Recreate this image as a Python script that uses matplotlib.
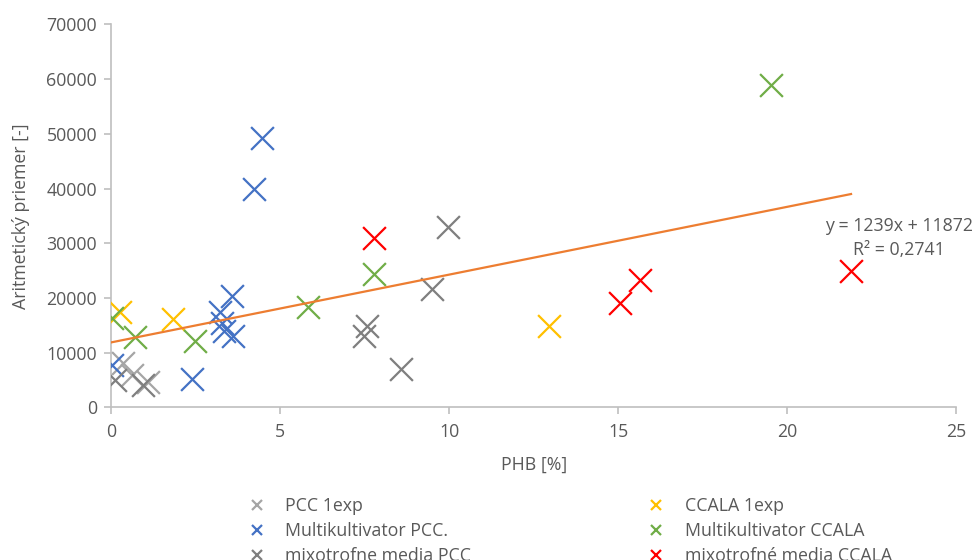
#!/usr/bin/env python3
"""Scatter of PHB vs. arithmetic mean with linear trend."""
import numpy as np
import matplotlib
matplotlib.use("Agg")
import matplotlib.pyplot as plt

plt.rcParams["font.family"] = ["Open Sans", "DejaVu Sans"]

# PHB [%] / Aritmeticky priemer per series
pcc1_x = [0.36, 0.61, 1.10]
pcc1_y = [8200, 5900, 4700]
ccala1_x = [0.27, 1.84, 12.96]
ccala1_y = [17400, 16200, 14800]
mk_pcc_x = [0.03, 2.39, 4.23, 4.47, 3.22, 3.57, 3.27, 3.35, 3.60]
mk_pcc_y = [7700, 5200, 40000, 49300, 17400, 20300, 15400, 14000, 13000]
mk_ccala_x = [0.02, 0.71, 2.49, 5.84, 7.78, 19.53]
mk_ccala_y = [16400, 12800, 12100, 18300, 24400, 58900]
mix_pcc_x = [0.12, 0.96, 7.56, 7.47, 8.57, 9.49, 9.98]
mix_pcc_y = [5000, 4100, 14800, 13100, 7050, 21700, 32900]
mix_ccala_x = [7.78, 15.06, 15.65, 21.89]
mix_ccala_y = [30900, 19000, 23200, 25000]

slope, intercept, r2 = 1239, 11872, 0.2741

grey = "#595959"
fs = 12.8
fig = plt.figure(figsize=(9.76, 5.6), dpi=100)
ax = fig.add_axes([0.1137, 0.2725, 0.866, 0.684])

series = [
    (pcc1_x, pcc1_y, "#A5A5A5", "PCC 1exp"),
    (mk_pcc_x, mk_pcc_y, "#4472C4", "Multikultivator PCC."),
    (mix_pcc_x, mix_pcc_y, "#7F7F7F", "mixotrofne media PCC"),
    (ccala1_x, ccala1_y, "#FFC000", "CCALA 1exp"),
    (mk_ccala_x, mk_ccala_y, "#70AD47", "Multikultivator CCALA"),
    (mix_ccala_x, mix_ccala_y, "#FF0000", "mixotrofné media CCALA"),
]
handles = []
for xs, ys, c, lab in series:
    ax.scatter(xs, ys, marker="x", s=270, linewidths=1.6, color=c, zorder=3)
    h, = ax.plot([], [], ls="none", marker="x", ms=7, mew=1.6, color=c, label=lab)
    handles.append(h)

all_x = np.concatenate([s[0] for s in series])
xl = np.array([all_x.min(), all_x.max()])
ax.plot(xl, slope * xl + intercept, color="#ED7D31", lw=1.6, zorder=4)
ax.text(23.3, 33150, f"y = {slope}x + {intercept}", ha="center", va="center",
        fontsize=fs, color=grey)
ax.text(23.3, 28850, "R² = " + str(r2).replace(".", ","), ha="center", va="center",
        fontsize=fs, color=grey)

ax.set_xlim(0, 25)
ax.set_ylim(0, 70000)
ax.set_xticks(range(0, 26, 5))
ax.set_yticks(range(0, 70001, 10000))
for sp in ["top", "right"]:
    ax.spines[sp].set_visible(False)
for sp in ["left", "bottom"]:
    ax.spines[sp].set_color("#BFBFBF")
    ax.spines[sp].set_linewidth(1.2)
ax.tick_params(colors="#BFBFBF", labelcolor=grey, labelsize=fs, length=5, width=1.2)
ax.tick_params(axis="y", pad=5)
ax.tick_params(axis="x", pad=6)
ax.set_xlabel("PHB [%]", fontsize=fs, color=grey, labelpad=11)
ax.set_ylabel("Aritmetický priemer [-]", fontsize=fs, color=grey, labelpad=12)

fig.legend(handles=handles, ncol=2, loc="upper left", bbox_to_anchor=(0.243, 0.128),
           frameon=False, fontsize=fs, labelcolor=grey, handlelength=1.2,
           handletextpad=1.0, columnspacing=9.8, labelspacing=0.39, borderpad=0)

fig.savefig("out.png", dpi=100)
print("written: out.png")
